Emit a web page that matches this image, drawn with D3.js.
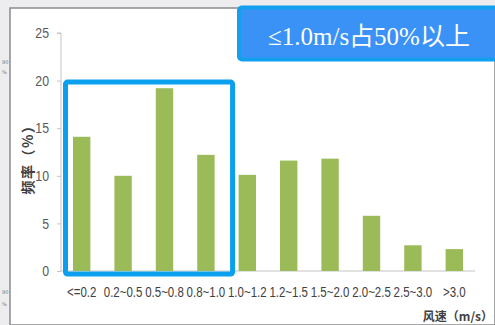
<!DOCTYPE html>
<html>
<head>
<meta charset="utf-8">
<script src="https://cdn.jsdelivr.net/npm/d3@7/dist/d3.min.js"></script>
<style>
  html, body { margin: 0; padding: 0; background: #ffffff; }
  svg { display: block; }
</style>
</head>
<body>
<script>
// Wind-speed bins and their frequency (%)
const categories = ["<=0.2", "0.2~0.5", "0.5~0.8", "0.8~1.0", "1.0~1.2", "1.2~1.5", "1.5~2.0", "2.0~2.5", "2.5~3.0", ">3.0"];
const frequency = [14.1, 10.0, 19.2, 12.2, 10.1, 11.6, 11.8, 5.8, 2.7, 2.3];
const yTicks = [0, 5, 10, 15, 20, 25];
const highlightCount = 4;           // bins up to 1.0 m/s
const noteText = "≤1.0m/s占50%以上";
const yTitle = "频率（%）";
const xTitle = "风速（m/s）";

const W = 495, H = 325;
const sans = "'Liberation Sans', Arial, sans-serif";

const svg = d3.select("body").append("svg").attr("width", W).attr("height", H);

// window frame around the plot
svg.append("rect").attr("x", 0).attr("y", 0).attr("width", W).attr("height", H).attr("fill", "#ededef");
svg.append("rect").attr("x", 10).attr("y", 8).attr("width", W - 10).attr("height", H - 8)
  .attr("fill", "#ffffff").attr("stroke", "#8a8a8a").attr("stroke-width", 1.5);
const sideNotes = [["90", 64], ["%", 74], ["90", 294], ["%", 306]];
svg.selectAll("text.side").data(sideNotes).join("text")
  .attr("class", "side").attr("x", 2).attr("y", d => d[1])
  .attr("font-family", "DejaVu Sans, sans-serif").attr("font-size", 5).attr("fill", "#777")
  .text(d => d[0]);

const x = d3.scaleBand().domain(categories).range([61, 475]).paddingInner(0.58).paddingOuter(0.29);
const y = d3.scaleLinear().domain([0, 25]).range([271, 33]);

// y axis
const yAxis = svg.append("g").attr("transform", "translate(61,0)")
  .call(d3.axisLeft(y).tickValues(yTicks).tickSize(4).tickPadding(0));
yAxis.select(".domain").attr("stroke", "#c4c4c4").attr("d", `M-4,${y(25)}H0V${y(0)}`);
yAxis.selectAll(".tick line").attr("stroke", "#c4c4c4");
yAxis.selectAll(".tick text")
  .attr("x", 0)
  .attr("transform", "translate(-12,0) scale(0.85,1)")
  .attr("font-family", sans).attr("font-size", 14.5).attr("fill", "#595959");

// x axis
const xAxis = svg.append("g").attr("transform", `translate(0,${y(0)})`)
  .call(d3.axisBottom(x).tickSize(0).tickPadding(16));
xAxis.select(".domain").attr("stroke", "#c4c4c4").attr("d", "M61,0H475");
xAxis.selectAll(".tick text")
  .attr("transform", "scale(0.82,1)")
  .attr("font-family", sans).attr("font-size", 14).attr("fill", "#404040");

// bars
svg.append("g").selectAll("rect").data(frequency).join("rect")
  .attr("x", (d, i) => x(categories[i]))
  .attr("y", d => y(d))
  .attr("width", x.bandwidth())
  .attr("height", d => y(0) - y(d))
  .attr("fill", "#9bbb59");

// axis titles
svg.append("text")
  .attr("transform", `translate(27,156) rotate(-90)`)
  .attr("text-anchor", "middle").attr("dominant-baseline", "central")
  .attr("font-family", "'Noto Sans CJK SC', sans-serif").attr("font-weight", "bold")
  .attr("font-size", 14).attr("letter-spacing", 1.5).attr("fill", "#404040").text(yTitle);
svg.append("text")
  .attr("x", 493).attr("y", 321).attr("text-anchor", "end")
  .attr("font-family", "'Noto Sans CJK SC', sans-serif").attr("font-weight", "bold")
  .attr("font-size", 12).attr("fill", "#404040").text(xTitle);

// highlight frame around the low wind-speed bins
const first = categories[0], last = categories[highlightCount - 1];
const hx0 = x(first) - 7.5, hx1 = x(last) + x.bandwidth() + 18;
const hy0 = y(20) + 1.5, hy1 = y(0) + 3;
svg.append("rect")
  .attr("x", hx0).attr("y", hy0).attr("width", hx1 - hx0).attr("height", hy1 - hy0)
  .attr("rx", 2).attr("fill", "none").attr("stroke", "#0aa0ee").attr("stroke-width", 5);

// note box
svg.append("rect")
  .attr("x", 239).attr("y", 7.5).attr("width", 262).attr("height", 52).attr("rx", 3)
  .attr("fill", "#3a92f6").attr("stroke", "#12a0ef").attr("stroke-width", 4);
svg.append("text")
  .attr("x", 369).attr("y", 44.5).attr("text-anchor", "middle")
  .attr("font-family", "'Liberation Serif', 'Noto Sans CJK SC', serif")
  .attr("font-size", 25).attr("fill", "#ffffff").text(noteText);
</script>
</body>
</html>
